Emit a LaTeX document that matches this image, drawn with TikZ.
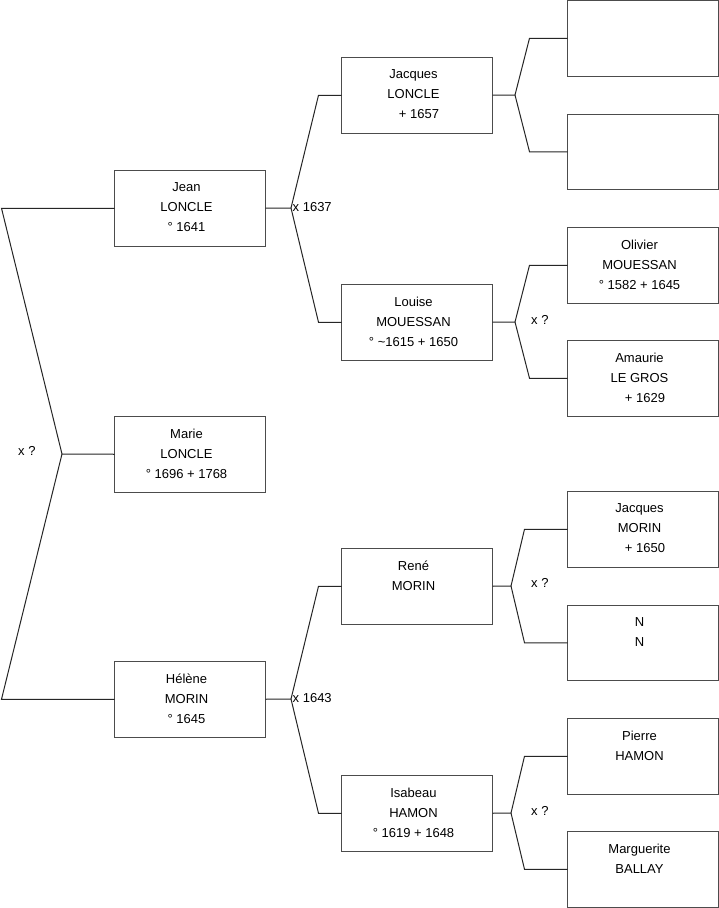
\documentclass[tikz,border=0pt]{standalone}
\usepackage{fontspec}
\setmainfont{Liberation Sans}
\begin{document}
\begin{tikzpicture}[x=1pt,y=-1pt,
  person/.style={draw=black!70,line width=1pt,minimum width=151pt,minimum height=75.5pt,inner sep=0pt,outer sep=0pt,anchor=north west},
  ptext/.style={anchor=north,inner sep=0pt,align=center,font=\fontsize{13}{20}\selectfont},
  mlabel/.style={anchor=west,inner sep=0pt,font=\fontsize{13}{16}\selectfont},
  link/.style={draw=black!85,line width=1pt}]
\fill[white] (0,0) rectangle (719,908);
\useasboundingbox (0,0) rectangle (719,908);
% boxes
\node[person] (jean) at (114.5,170.5) {};
\node[person] (marie) at (114.5,416.5) {};
\node[person] (helene) at (114.5,661.5) {};
\node[person] (jacques) at (341.5,57.5) {};
\node[person] (louise) at (341.5,284.5) {};
\node[person] (rene) at (341.5,548.5) {};
\node[person] (isabeau) at (341.5,775.5) {};
\node[person] (ga) at (567.5,0.5) {};
\node[person] (gb) at (567.5,114) {};
\node[person] (olivier) at (567.5,227.5) {};
\node[person] (amaurie) at (567.5,340.5) {};
\node[person] (jmorin) at (567.5,491.5) {};
\node[person] (nn) at (567.5,605) {};
\node[person] (pierre) at (567.5,718.5) {};
\node[person] (marguerite) at (567.5,831.5) {};
% texts
\tikzset{ts/.style={yshift=-12pt,xshift=-3.5pt}}
\node[ptext] (jeanT) at ([ts]jean.north) {Jean\\LONCLE\\° 1641};
\node[ptext] (marieT) at ([ts]marie.north) {Marie\\LONCLE\\° 1696 + 1768};
\node[ptext] (heleneT) at ([ts]helene.north) {Hélène\\MORIN\\° 1645};
\node[ptext] (jacquesT) at ([ts]jacques.north) {Jacques\\LONCLE\\\hspace*{11pt}+ 1657};
\node[ptext] (louiseT) at ([ts]louise.north) {Louise\\MOUESSAN\\° \textasciitilde1615 + 1650};
\node[ptext] (reneT) at ([ts]rene.north) {René\\MORIN};
\node[ptext] (isabeauT) at ([ts]isabeau.north) {Isabeau\\HAMON\\° 1619 + 1648};
\node[ptext] (olivierT) at ([ts]olivier.north) {Olivier\\MOUESSAN\\° 1582 + 1645};
\node[ptext] (amaurieT) at ([ts]amaurie.north) {Amaurie\\LE GROS\\\hspace*{11pt}+ 1629};
\node[ptext] (jmorinT) at ([ts]jmorin.north) {Jacques\\MORIN\\\hspace*{11pt}+ 1650};
\node[ptext] (nnT) at ([ts]nn.north) {N\\N};
\node[ptext] (pierreT) at ([ts]pierre.north) {Pierre\\HAMON};
\node[ptext] (margueriteT) at ([ts]marguerite.north) {Marguerite\\BALLAY};
% fork points
\coordinate (fm) at (62,454);
\coordinate (fj) at (291,208);
\coordinate (fh) at (291,699);
\coordinate (fjac) at (515,95);
\coordinate (flou) at (515,322);
\coordinate (fren) at (511,586);
\coordinate (fisa) at (511,813);
% connectors
\draw[link] (marie.west) -- (fm) -- ([xshift=-113pt]jean.west) -- (jean.west);
\draw[link] (fm) -- ([xshift=-113pt]helene.west) -- (helene.west);
\draw[link] (jean.east) -- (fj) -- ([xshift=-23pt]jacques.west) -- (jacques.west);
\draw[link] (fj) -- ([xshift=-23pt]louise.west) -- (louise.west);
\draw[link] (helene.east) -- (fh) -- ([xshift=-23pt]rene.west) -- (rene.west);
\draw[link] (fh) -- ([xshift=-23pt]isabeau.west) -- (isabeau.west);
\draw[link] (jacques.east) -- (fjac) -- ([xshift=-38pt]ga.west) -- (ga.west);
\draw[link] (fjac) -- ([xshift=-38pt]gb.west) -- (gb.west);
\draw[link] (louise.east) -- (flou) -- ([xshift=-38pt]olivier.west) -- (olivier.west);
\draw[link] (flou) -- ([xshift=-38pt]amaurie.west) -- (amaurie.west);
\draw[link] (rene.east) -- (fren) -- ([xshift=-43pt]jmorin.west) -- (jmorin.west);
\draw[link] (fren) -- ([xshift=-43pt]nn.west) -- (nn.west);
\draw[link] (isabeau.east) -- (fisa) -- ([xshift=-43pt]pierre.west) -- (pierre.west);
\draw[link] (fisa) -- ([xshift=-43pt]marguerite.west) -- (marguerite.west);
% marriage labels
\node[mlabel] (mM) at (18,451) {x ?};
\node[mlabel] (mJ) at (292.5,207) {x 1637};
\node[mlabel] (mH) at (292.5,698) {x 1643};
\node[mlabel] (mL) at (531,320) {x ?};
\node[mlabel] (mR) at (531,583) {x ?};
\node[mlabel] (mI) at (531,810.5) {x ?};
\end{tikzpicture}
\end{document}
